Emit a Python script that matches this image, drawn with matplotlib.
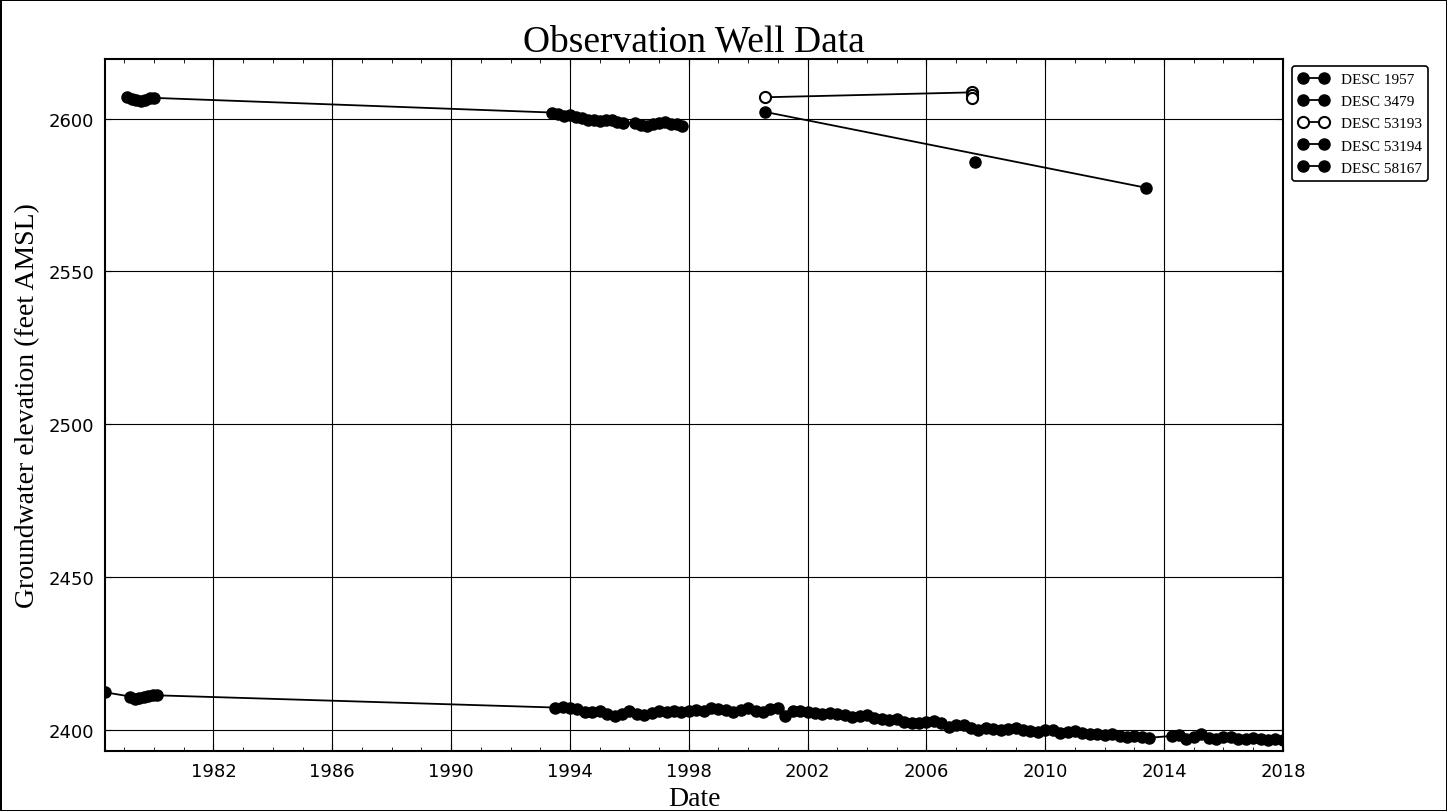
import matplotlib
matplotlib.use("Agg")
import matplotlib.pyplot as plt
from matplotlib.ticker import FixedLocator, MultipleLocator

# decimal years / groundwater elevation (feet AMSL)
desc1957_t = [1978.35, 1979.20, 1979.35, 1979.50, 1979.65, 1979.80, 1979.95, 1980.10,
              1993.50, 1993.75, 1994.00, 1994.25, 1994.50, 1994.75, 1995.00, 1995.25,
              1995.50, 1995.75, 1996.00, 1996.25, 1996.50, 1996.75, 1997.00, 1997.25,
              1997.50, 1997.75, 1998.00, 1998.25, 1998.50, 1998.75, 1999.00, 1999.25,
              1999.50, 1999.75, 2000.00, 2000.25, 2000.50, 2000.75, 2001.00, 2001.25,
              2001.50, 2001.75, 2002.00, 2002.25, 2002.50, 2002.75, 2003.00, 2003.25,
              2003.50, 2003.75, 2004.00, 2004.25, 2004.50, 2004.75, 2005.00, 2005.25,
              2005.50, 2005.75, 2006.00, 2006.25, 2006.50, 2006.75, 2007.00, 2007.25,
              2007.50, 2007.75, 2008.00, 2008.25, 2008.50, 2008.75, 2009.00, 2009.25,
              2009.50, 2009.75, 2010.00, 2010.25, 2010.50, 2010.75, 2011.00, 2011.25,
              2011.50, 2011.75, 2012.00, 2012.25, 2012.50, 2012.75, 2013.00, 2013.25,
              2013.50, 2014.25, 2014.50, 2014.75, 2015.00, 2015.25, 2015.50, 2015.75,
              2016.00, 2016.25, 2016.50, 2016.75, 2017.00, 2017.25, 2017.50, 2017.75,
              2018.00]
desc1957_v = [2412.2, 2410.8, 2410.0, 2410.2, 2410.5, 2411.0, 2411.3, 2411.2,
              2407.2, 2407.3, 2407.2, 2406.8, 2405.9, 2405.6, 2406.0, 2405.2,
              2404.3, 2405.0, 2406.0, 2405.2, 2404.8, 2405.5, 2406.2, 2405.8,
              2406.0, 2405.6, 2406.2, 2406.3, 2406.0, 2407.2, 2406.8, 2406.5,
              2405.8, 2406.3, 2407.0, 2406.2, 2405.6, 2406.8, 2407.0, 2404.5,
              2406.0, 2406.2, 2405.8, 2405.5, 2405.0, 2405.4, 2405.2, 2404.6,
              2404.2, 2404.5, 2404.6, 2403.8, 2403.5, 2403.2, 2403.3, 2402.6,
              2402.3, 2402.0, 2402.6, 2402.8, 2402.0, 2400.8, 2401.5, 2401.4,
              2400.6, 2399.9, 2400.5, 2400.3, 2400.0, 2400.2, 2400.4, 2400.0,
              2399.6, 2399.3, 2400.0, 2399.8, 2398.9, 2399.2, 2399.4, 2398.8,
              2398.5, 2398.6, 2398.2, 2398.6, 2397.8, 2397.4, 2398.0, 2397.6,
              2397.3, 2397.9, 2398.2, 2397.0, 2397.6, 2398.6, 2397.2, 2396.8,
              2397.4, 2397.6, 2397.0, 2396.8, 2397.2, 2397.0, 2396.6, 2396.8,
              2396.5]

desc3479_t = [1979.10, 1979.25, 1979.40, 1979.55, 1979.70, 1979.85, 1980.00,
              1993.40, 1993.60, 1993.80, 1994.00, 1994.20, 1994.40, 1994.60, 1994.80,
              1995.00, 1995.20, 1995.40, 1995.60, 1995.80, 1996.20, 1996.40, 1996.60,
              1996.80, 1997.00, 1997.20, 1997.40, 1997.60, 1997.77]
desc3479_v = [2607.0, 2606.4, 2606.0, 2605.9, 2606.0, 2606.6, 2606.8,
              2602.0, 2601.4, 2601.0, 2601.2, 2600.7, 2600.1, 2599.6, 2599.7,
              2599.3, 2599.7, 2599.4, 2598.8, 2598.7, 2598.6, 2597.8, 2597.7,
              2598.1, 2598.6, 2598.8, 2598.4, 2598.2, 2597.7]

desc53193_t = [2000.57, 2007.52, 2007.52, 2007.52]
desc53193_v = [2607.0, 2608.6, 2607.6, 2606.7]

desc53194_t = [2000.57, 2013.38]
desc53194_v = [2602.2, 2577.4]

desc58167_t = [2007.64]
desc58167_v = [2585.7]

year_ticks = list(range(1982, 2019, 4))

serif = ["Liberation Serif", "DejaVu Serif"]

fig = plt.figure(figsize=(14.47, 8.12), dpi=100)
fig.patch.set_edgecolor("black")
fig.patch.set_linewidth(2)
ax = fig.add_axes([0.0726, 0.074, 0.814, 0.852])

mk = dict(marker="o", markersize=8, linewidth=1.3, color="black", markeredgecolor="black")
ax.plot(desc1957_t, desc1957_v, label="DESC 1957", **mk)
ax.plot(desc3479_t, desc3479_v, label="DESC 3479", **mk)
ax.plot(desc53193_t, desc53193_v, label="DESC 53193", marker="o", markersize=8,
        linewidth=1.3, color="black", markerfacecolor="white", markeredgewidth=1.5)
ax.plot(desc53194_t, desc53194_v, label="DESC 53194", **mk)
ax.plot(desc58167_t, desc58167_v, label="DESC 58167", **mk)

ax.set_xlim(1978.35, 2018.0)
ax.set_ylim(2393, 2619.5)
ax.xaxis.set_major_locator(FixedLocator(year_ticks))
ax.xaxis.set_minor_locator(MultipleLocator(1))
ax.yaxis.set_major_locator(MultipleLocator(50))
ax.tick_params(which="both", direction="in", top=True, right=True, labelsize=13)
ax.tick_params(which="major", length=5, pad=8)
ax.tick_params(which="minor", length=3)
ax.grid(True, which="major", color="black", linestyle="-", linewidth=0.8)
ax.set_axisbelow(True)
for s in ax.spines.values():
    s.set_linewidth(1.5)

ax.set_title("Observation Well Data", fontsize=27, family=serif, pad=6)
ax.set_xlabel("Date", fontsize=20, family=serif, labelpad=4)
ax.set_ylabel("Groundwater elevation (feet AMSL)", fontsize=20, family=serif, labelpad=6)

leg = ax.legend(loc="upper left", bbox_to_anchor=(1.004, 0.996), prop={"family": serif, "size": 11},
                numpoints=2, handlelength=2.0, labelspacing=0.55, borderaxespad=0.3,
                fancybox=True, framealpha=1, edgecolor="black")
leg.get_frame().set_linewidth(1.2)

fig.savefig("out.png", dpi=100, facecolor="white", edgecolor="black")
